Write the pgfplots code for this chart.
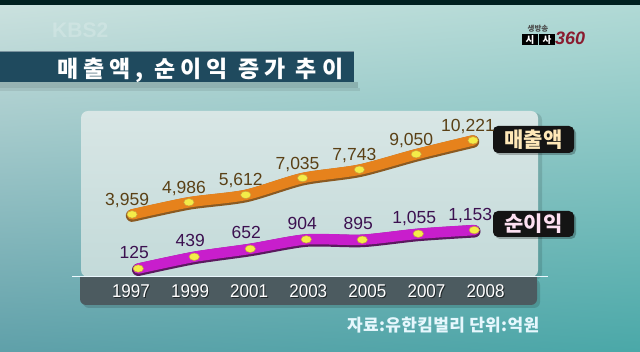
\documentclass[border=0pt]{standalone}
\usepackage{pgfplots}
\pgfplotsset{compat=1.18}
\usepackage{pgfplotstable}
\usetikzlibrary{shadings}
\usepackage{fontspec}
\setmainfont{Liberation Sans}
\newfontfamily\kr{Noto Sans CJK KR}
\newfontfamily\numfont{Liberation Sans}
\newfontfamily\yearfont[FakeStretch=0.92]{Liberation Sans}
\definecolor{bgUL}{HTML}{CCE2DF}
\definecolor{bgUR}{HTML}{B2DAD6}
\definecolor{bgLL}{HTML}{5FA0A9}
\definecolor{bgLR}{HTML}{4AA8A8}
\definecolor{panelTop}{HTML}{D8E6E5}
\definecolor{panelBot}{HTML}{C3DAD9}
\definecolor{barDark}{HTML}{4C5B60}
\definecolor{titleBox}{HTML}{1F4A5E}
\definecolor{orangeMain}{HTML}{E6821C}
\definecolor{orangeDark}{HTML}{8A5A22}
\definecolor{magMain}{HTML}{C81ECC}
\definecolor{magDark}{HTML}{5A1A5E}
\definecolor{markYellow}{HTML}{F4EC48}
\definecolor{markEdge}{HTML}{C8A040}
\definecolor{salesText}{HTML}{5A4015}
\definecolor{profitText}{HTML}{3C1050}
\definecolor{logoRed}{HTML}{8A1C30}

\pgfplotstableread{
x y label
0 3959 3,959
1 4986 4,986
2 5612 5,612
3 7035 7,035
4 7743 7,743
5 9050 9,050
6 10221 10,221
}\sales
\pgfplotstableread{
x y label
0 125 125
1 439 439
2 652 652
3 904 904
4 895 895
5 1055 1,055
6 1153 1,153
}\profit

\pgfplotsset{full/.style={at={(0pt,0pt)}, anchor=south west, scale only axis,
  width=640pt, height=352pt, clip=false}}

\begin{document}
\begin{tikzpicture}[x=1pt,y=1pt]
\useasboundingbox (0,0) rectangle (640,352);
\clip (0,0) rectangle (640,352);
% background
\shade[upper left=bgUL, upper right=bgUR, lower left=bgLL, lower right=bgLR] (0,0) rectangle (640,352);
\fill[black!75!teal] (0,347) rectangle (640,352);
% KBS2 logo
\node[anchor=base west, inner sep=0, text=white, opacity=0.2, font=\bfseries\fontsize{21}{21}\selectfont] at (52,314) {KBS2};
% program logo
\node[anchor=center, inner sep=0, text=black!70, font=\kr\bfseries\fontsize{7.5}{7.5}\selectfont] at (538,323) {생방송};
\fill[black] (522,307) rectangle (538,318);
\fill[black] (539,307) rectangle (555,318);
\node[anchor=center, inner sep=0, text=white, font=\kr\bfseries\fontsize{9.5}{9.5}\selectfont] at (530,312.5) {시};
\node[anchor=center, inner sep=0, text=white, font=\kr\bfseries\fontsize{9.5}{9.5}\selectfont] at (547,312.5) {사};
\node[anchor=base west, inner sep=0, text=logoRed, font=\bfseries\itshape\fontsize{18}{18}\selectfont] at (555,307) {360};
% title
\fill[black, opacity=0.15] (0,264) rectangle (358,270);
\fill[black, opacity=0.08] (0,261) rectangle (360,264);
\fill[titleBox] (0,270) rectangle (354,301);
\draw[white!40!titleBox, line width=0.8pt] (0,300.6) -- (354,300.6);
\node[anchor=base west, inner sep=0, text=white, font=\kr\bfseries\fontsize{23}{23}\selectfont\addfontfeature{LetterSpace=22}] at (57,274.5) {매출액, 순이익 증가 추이};
% panel
\fill[black, opacity=0.12, rounded corners=7pt] (84,72) rectangle (542,239);
\shade[top color=panelTop, bottom color=panelBot, rounded corners=7pt] (81,75) rectangle (538,241);
% dark label bar
\fill[black, opacity=0.15, rounded corners=6pt] (83,44) rectangle (540,73);
\fill[barDark, rounded corners=6pt] (80,47) rectangle (537,75);
\fill[barDark] (80,66) rectangle (537,75);
\draw[white!92!cyan, line width=1.8pt] (72,75.5) -- (548,75.5);
% legend labels
\fill[black, opacity=0.25, rounded corners=5pt] (495,197) rectangle (576,224);
\fill[black!92, rounded corners=5pt] (493,199) rectangle (574,226);
\node[anchor=center, inner sep=0, text=white!80!orange!90!yellow, font=\kr\bfseries\fontsize{21}{21}\selectfont] at (533.5,212.5) {매출액};
\fill[black, opacity=0.25, rounded corners=5pt] (495,113) rectangle (576,139);
\fill[black!92, rounded corners=5pt] (493,115) rectangle (574,141);
\node[anchor=center, inner sep=0, text=white!88!magenta, font=\kr\bfseries\fontsize{21}{21}\selectfont] at (533.5,128) {순이익};
% source
\node[anchor=base west, inner sep=0, text=white!90!cyan, font=\kr\bfseries\fontsize{17}{17}\selectfont\addfontfeature{LetterSpace=2}] at (347,20) {자료:유한킴벌리 단위:억원};

% year labels (shadow + text)
\begin{axis}[full, xmin=-2.2156, xmax=8.612, ymin=0, ymax=352,
  axis line style={draw=none}, major tick length=0pt, ytick=\empty,
  xtick={0,...,6}, xticklabels={1997,1999,2001,2003,2005,2007,2008},
  xticklabel style={anchor=center, xshift=1pt, yshift=59.5pt, text=black, opacity=0.55,
    font=\yearfont\fontsize{18.5}{18.5}\selectfont}]
\end{axis}
\begin{axis}[full, xmin=-2.2156, xmax=8.612, ymin=0, ymax=352,
  axis line style={draw=none}, major tick length=0pt, ytick=\empty,
  xtick={0,...,6}, xticklabels={1997,1999,2001,2003,2005,2007,2008},
  xticklabel style={anchor=center, yshift=60.5pt, text=white,
    font=\yearfont\fontsize{18.5}{18.5}\selectfont}]
\end{axis}

% sales line
\begin{axis}[full, hide axis, xmin=-2.325, xmax=8.939, ymin=-7672, ymax=22090]
\addplot[draw=orangeDark, line width=12.5pt, smooth, tension=0.45, line cap=round, line join=round,
  transform canvas={yshift=-1.2pt}] table[x=x,y=y]{\sales};
\addplot[draw=orangeMain, line width=10.5pt, smooth, tension=0.45, line cap=round, line join=round]
  table[x=x,y=y]{\sales};
\addplot[only marks, mark=*, mark size=3.7pt,
  mark options={xscale=1.4, fill=markYellow, draw=markEdge, line width=0.5pt},
  nodes near coords, point meta=explicit symbolic,
  every node near coord/.append style={anchor=base, xshift=-5pt, yshift=9pt, inner sep=0pt,
    text=salesText, font=\numfont\fontsize{17.5}{17.5}\selectfont}]
  table[x=x,y=y,meta=label]{\sales};
\end{axis}

% profit line
\begin{axis}[full, hide axis, xmin=-2.469, xmax=8.959, ymin=-2105, ymax=7301]
\addplot[draw=magDark, line width=12.5pt, smooth, tension=0.45, line cap=round, line join=round,
  transform canvas={yshift=-1.2pt}] table[x=x,y=y]{\profit};
\addplot[draw=magMain, line width=10.5pt, smooth, tension=0.45, line cap=round, line join=round]
  table[x=x,y=y]{\profit};
\addplot[only marks, mark=*, mark size=3.7pt,
  mark options={xscale=1.4, fill=markYellow, draw=markEdge, line width=0.5pt},
  nodes near coords, point meta=explicit symbolic,
  every node near coord/.append style={anchor=base, xshift=-4pt, yshift=10pt, inner sep=0pt,
    text=profitText, font=\numfont\fontsize{17.5}{17.5}\selectfont}]
  table[x=x,y=y,meta=label]{\profit};
\end{axis}
\end{tikzpicture}
\end{document}
